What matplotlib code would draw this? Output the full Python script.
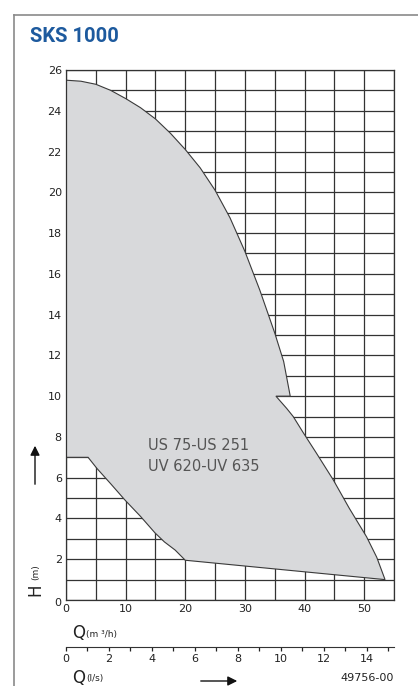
import numpy as np
import matplotlib.pyplot as plt
from matplotlib.lines import Line2D
from matplotlib.ticker import MultipleLocator

# operating range outline (Q in m3/h, H in m)
q_env = [0, 2.5, 5, 7.5, 10, 12.5, 15, 17.5, 20, 22.5, 25, 27.5, 30, 32.5, 35, 36.5, 37.6,
         35.2, 37, 38.1, 39.8, 42, 44.8, 47.5, 50.4, 52.1, 53.5,
         20, 18.3, 16.5, 14.9, 12.5, 9.9, 7.5, 5.2, 3.7, 0]
h_env = [25.5, 25.45, 25.3, 25.0, 24.6, 24.15, 23.6, 22.9, 22.1, 21.2, 20.1, 18.75, 17.1, 15.2, 13.1, 11.7, 10,
         10, 9.4, 9, 8.2, 7.2, 5.9, 4.5, 3.1, 2.1, 1,
         1.95, 2.45, 2.85, 3.3, 4.1, 4.9, 5.7, 6.45, 7, 7]

x_ticks = [0, 10, 20, 30, 40, 50]
y_ticks = [0, 2, 4, 6, 8, 10, 12, 14, 16, 18, 20, 22, 24, 26]
ls_ticks = [0, 2, 4, 6, 8, 10, 12, 14]
models = ["US 75-US 251", "UV 620-UV 635"]

W, H = 418, 686
fig = plt.figure(figsize=(W / 100, H / 100), dpi=100)

def fx(px):
    return px / W

def fy(py):
    return 1 - py / H

# frame around the panel
fig.add_artist(Line2D([fx(14), 1], [fy(15), fy(15)], color='#8a8a8a', lw=1.2))
fig.add_artist(Line2D([fx(14), fx(14)], [fy(15), 0], color='#8a8a8a', lw=1.2))

fig.text(fx(30), fy(36), "SKS 1000", color='#1d5a9e', fontsize=14.5,
         fontweight='bold', family='Roboto', va='center', ha='left')

ax = fig.add_axes([fx(66), fy(600), fx(394) - fx(66), fy(70) - fy(600)])
ax.set_xlim(0, 55)
ax.set_ylim(0, 26)

# grid
for q in np.arange(0, 56, 5):
    ax.axvline(q, color='#333333', lw=0.9, zorder=1)
for h in np.arange(0, 27, 1):
    ax.axhline(h, color='#333333', lw=0.9, zorder=1)

ax.fill(q_env, h_env, facecolor='#d8d9db', edgecolor='#3a3a3a', lw=0.8, zorder=2)

ax.text(13.8, 7.6, models[0], fontsize=10.5, color='#555555', ha='left', va='center', zorder=3)
ax.text(13.8, 6.55, models[1], fontsize=10.5, color='#555555', ha='left', va='center', zorder=3)

for s in ax.spines.values():
    s.set_color('#333333')
    s.set_linewidth(0.9)

ax.set_xticks(x_ticks)
ax.set_yticks(y_ticks)
ax.tick_params(length=0, labelsize=8, colors='#222222', pad=3)
ax.set_yticklabels([str(v) if v != 0 else '' for v in y_ticks])
ax.set_xticklabels([str(v) for v in x_ticks])

fig.text(fx(58), fy(603), "0", fontsize=8, color='#222222', ha='center', va='center')

# axis titles
fig.text(fx(72), fy(633), "Q", fontsize=12, color='#222222', ha='left', va='center')
fig.text(fx(86), fy(634), "(m ³/h)", fontsize=6.5, color='#222222', ha='left', va='center')
fig.text(fx(35), fy(590), "H", fontsize=12, color='#222222', ha='center', va='center',
         rotation=90)
fig.text(fx(36), fy(572), "(m)", fontsize=6.5, color='#222222', ha='center', va='center',
         rotation=90)
ax.annotate('', xy=(fx(35), fy(443)), xytext=(fx(35), fy(487)), xycoords='figure fraction',
            arrowprops=dict(arrowstyle='-|>', color='#111111', lw=1, mutation_scale=14))

# second flow scale in l/s
ax2 = fig.add_axes([fx(66), fy(647), fx(394) - fx(66), 0.0001])
ax2.set_xlim(0, 55 / 3.6)
ax2.set_ylim(0, 1)
for k in ['top', 'left', 'right']:
    ax2.spines[k].set_visible(False)
ax2.spines['bottom'].set_color('#333333')
ax2.set_yticks([])
ax2.set_xticks(ls_ticks)
ax2.xaxis.set_minor_locator(MultipleLocator(1))
ax2.tick_params(axis='x', which='both', direction='out', length=3, width=0.9,
                colors='#222222', labelsize=8, pad=2)

fig.text(fx(72), fy(678), "Q", fontsize=12, color='#222222', ha='left', va='center')
fig.text(fx(86), fy(679), "(l/s)", fontsize=6.5, color='#222222', ha='left', va='center')
ax.annotate('', xy=(fx(240), fy(681)), xytext=(fx(198), fy(681)), xycoords='figure fraction',
            arrowprops=dict(arrowstyle='-|>', color='#111111', lw=1, mutation_scale=14))
fig.text(fx(394), fy(678), "49756-00", fontsize=8, color='#222222', ha='right', va='center')

fig.savefig('out.png', dpi=100)
